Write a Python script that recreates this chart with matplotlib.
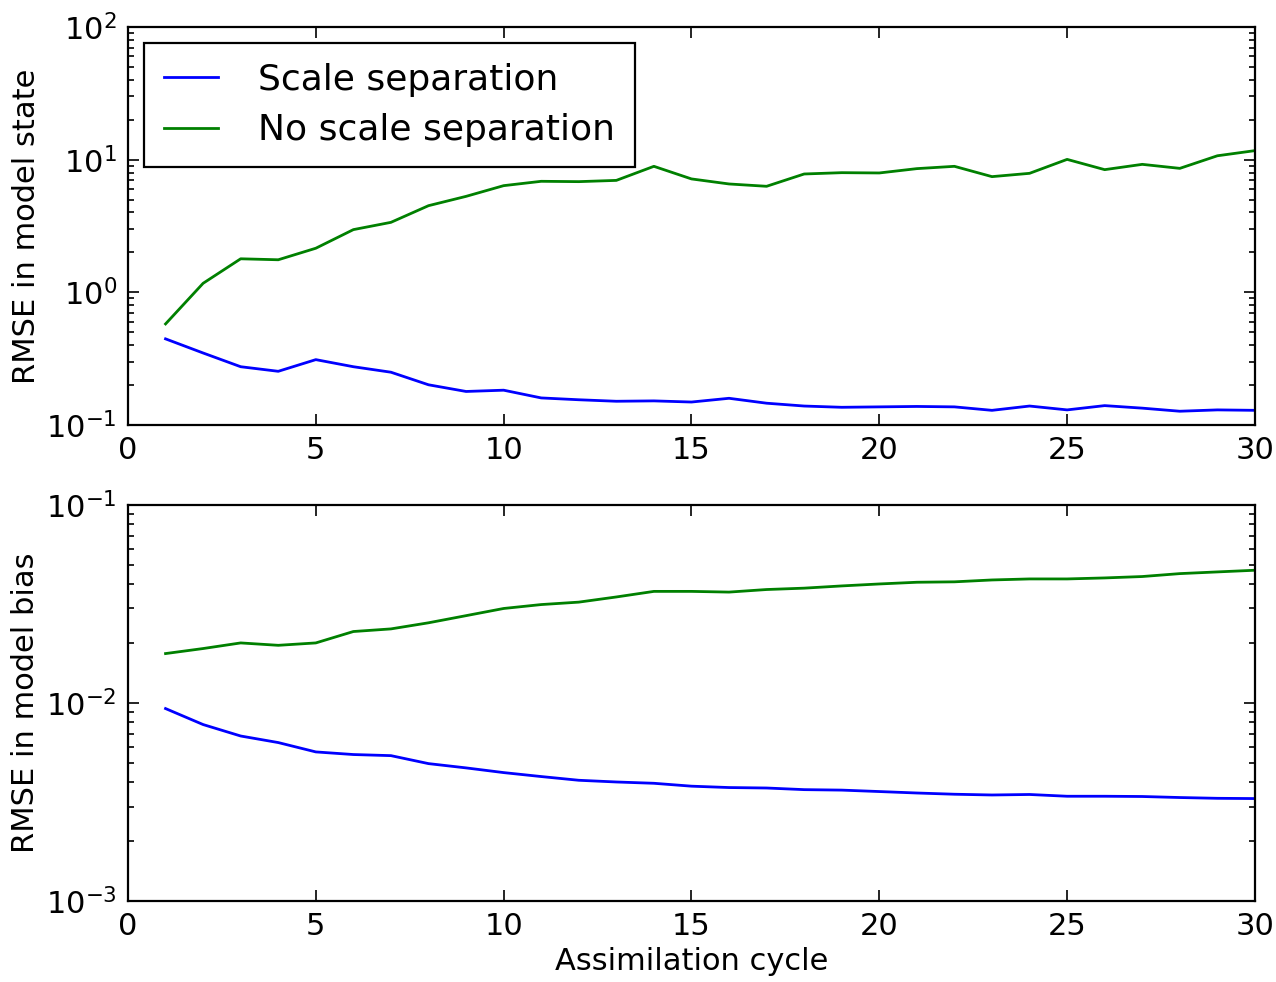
import matplotlib
matplotlib.use("Agg")
import matplotlib.pyplot as plt
import numpy as np

# assimilation cycles
cycles = list(range(1, 31))

# RMSE in model state (top panel)
state_sep = [0.446, 0.349, 0.275, 0.254, 0.311, 0.275, 0.250, 0.201, 0.179, 0.183,
             0.160, 0.155, 0.151, 0.152, 0.149, 0.159, 0.146, 0.139, 0.136, 0.137,
             0.138, 0.137, 0.129, 0.139, 0.130, 0.140, 0.134, 0.127, 0.130, 0.129]
state_nosep = [0.578, 1.17, 1.79, 1.76, 2.15, 2.97, 3.37, 4.50, 5.29, 6.37,
               6.87, 6.83, 6.98, 8.91, 7.16, 6.56, 6.30, 7.80, 7.98, 7.94,
               8.56, 8.91, 7.45, 7.89, 10.05, 8.41, 9.22, 8.60, 10.7, 11.7]

# RMSE in model bias (bottom panel)
bias_sep = [0.00937, 0.00778, 0.00681, 0.00631, 0.00566, 0.00549, 0.00542, 0.00494, 0.00470, 0.00445,
            0.00425, 0.00407, 0.00399, 0.00393, 0.00380, 0.00374, 0.00372, 0.00365, 0.00363, 0.00357,
            0.00351, 0.00346, 0.00343, 0.00345, 0.00338, 0.00338, 0.00337, 0.00333, 0.00330, 0.00329]
bias_nosep = [0.01776, 0.01883, 0.0201, 0.01955, 0.0201, 0.02295, 0.02366, 0.0254, 0.0276, 0.0300,
              0.0314, 0.0323, 0.0343, 0.0366, 0.0366, 0.0363, 0.0374, 0.0380, 0.0390, 0.0399,
              0.0407, 0.0409, 0.0418, 0.0423, 0.0423, 0.0428, 0.0435, 0.0450, 0.0459, 0.0468]

labels = ["Scale separation", "No scale separation"]

plt.rcParams['font.family'] = 'DejaVu Sans'
fig = plt.figure(figsize=(12.76, 9.82), dpi=100)
ax1 = fig.add_axes([0.1003, 0.5672, 0.8832, 0.4053])
ax2 = fig.add_axes([0.1003, 0.0825, 0.8832, 0.4033])


def style_axis(ax):
    ax.set_yscale('log')
    ax.set_xlim(0, 30)
    ax.tick_params(which='both', direction='in', top=True, right=True, labelsize=22, pad=8)
    ax.tick_params(which='major', length=8, width=1.2)
    ax.tick_params(which='minor', length=4, width=1.2)
    for s in ax.spines.values():
        s.set_linewidth(1.6)


ax1.plot(cycles, state_sep, color='b', lw=2.0, label=labels[0])
ax1.plot(cycles, state_nosep, color='g', lw=2.0, label=labels[1])
style_axis(ax1)
ax1.set_ylim(0.1, 100)
ax1.set_ylabel("RMSE in model state", fontsize=22, labelpad=4)
leg = ax1.legend(loc='upper left', fontsize=26, fancybox=False, handlelength=1.5,
                 handletextpad=1.1, borderpad=0.55, labelspacing=0.45,
                 borderaxespad=0.45, framealpha=1)
leg.get_frame().set_edgecolor('black')
leg.get_frame().set_linewidth(1.6)

ax2.plot(cycles, bias_sep, color='b', lw=2.0)
ax2.plot(cycles, bias_nosep, color='g', lw=2.0)
style_axis(ax2)
ax2.set_ylim(1e-3, 1e-1)
ax2.set_ylabel("RMSE in model bias", fontsize=22, labelpad=4)
ax2.set_xlabel("Assimilation cycle", fontsize=22, labelpad=4)

fig.savefig("out.png", dpi=100)
